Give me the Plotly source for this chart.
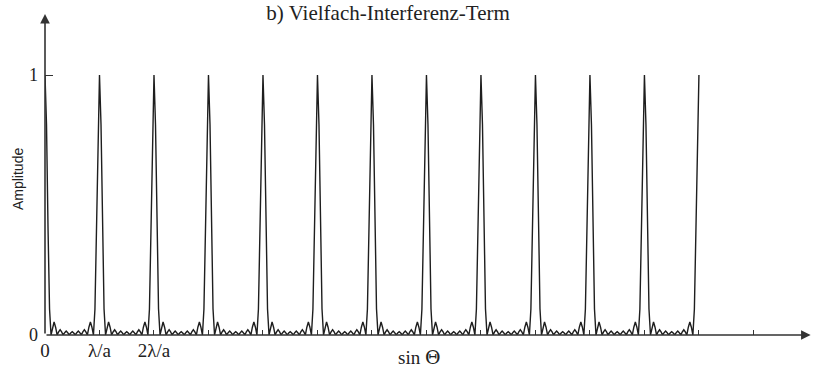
import plotly.graph_objects as go

# ---- data ----
orders = list(range(13))                 # main maxima at 0 .. 12 (units of lambda/a)
peak_height = [1.0] * 13
n_slits = 9                              # 7 secondary maxima between main peaks
flank_offsets = [0.0, 0.25, 0.5, 0.75, 1.0]   # in units of 1/(N) of a period
flank_values = [1.0, 0.81, 0.41, 0.10, 0.0]   # relative to peak height
lobe_values = [0.05, 0.02, 0.015, 0.013, 0.015, 0.02, 0.05]
axis_ticks = list(range(14))
x_ticktext = ["0", "λ/a", "2λ/a"]
x_max = 14.13
y_max = 1.258

# ---- build the curve from the values above ----
def one_period(o, h):
    xs, ys = [], []
    step = 1.0 / n_slits
    for d, v in zip(flank_offsets, flank_values):
        xs.append(o + d * step); ys.append(h * v)
    for k, a in enumerate(lobe_values, start=1):
        z0 = o + k * step
        xs += [z0 + 0.25 * step, z0 + 0.5 * step, z0 + 0.75 * step, z0 + step]
        ys += [0.6 * a, a, 0.6 * a, 0.0]
    for d, v in zip(reversed(flank_offsets[:-1]), reversed(flank_values[:-1])):
        xs.append(o + 1 - d * step); ys.append(h * v)
    return xs, ys

X, Y = [], []
for o, h in zip(orders[:-1], peak_height[:-1]):
    xs, ys = one_period(o, h)
    if X:
        xs, ys = xs[1:], ys[1:]
    X += xs; Y += ys

fig = go.Figure()
fig.add_trace(go.Scatter(x=X, y=Y, mode="lines",
                         line=dict(color="#1e1e1e", width=1.4),
                         hoverinfo="skip", showlegend=False, cliponaxis=False))

serif = "Liberation Serif, Times New Roman, serif"

fig.update_layout(
    width=817, height=371,
    margin=dict(l=45, r=2, t=8, b=36),
    paper_bgcolor="white", plot_bgcolor="white",
    title=dict(text="b) Vielfach-Interferenz-Term", x=0.475, xanchor="center",
               y=0.966, yanchor="middle", font=dict(family=serif, size=21, color="#222")),
    xaxis=dict(range=[0, x_max], showgrid=False, zeroline=False, showline=False,
               automargin=False,
               tickmode="array", tickvals=axis_ticks,
               ticktext=x_ticktext + [""] * (len(axis_ticks) - len(x_ticktext)),
               ticks="inside", ticklen=5, tickwidth=1.2, tickcolor="#333",
               ticklabelstandoff=2,
               tickfont=dict(family=serif, size=19, color="#222")),
    yaxis=dict(range=[0, y_max], showgrid=False, zeroline=False, showline=False,
               automargin=False,
               tickmode="array", tickvals=[0, 1], ticktext=["0", "1"],
               ticks="inside", ticklen=8, tickwidth=1.2, tickcolor="#333",
               ticklabelstandoff=6,
               tickfont=dict(family=serif, size=18, color="#222")),
)

# axes with arrows
fig.add_annotation(x=14.05, y=0, ax=0, ay=0, xref="x", yref="y", axref="x", ayref="y",
                   showarrow=True, arrowhead=2, arrowsize=1.2, arrowwidth=1.6,
                   arrowcolor="#333", text="")
fig.add_annotation(x=0, y=1.235, ax=0, ay=0, xref="x", yref="y", axref="x", ayref="y",
                   showarrow=True, arrowhead=2, arrowsize=1.2, arrowwidth=1.6,
                   arrowcolor="#333", text="")

fig.add_annotation(x=6.88, y=0, xref="x", yref="y", yshift=-22, showarrow=False,
                   text="sin <span style='font-family:DejaVu Serif'>Θ</span>",
                   font=dict(family=serif, size=19, color="#222"))
fig.add_annotation(x=0, y=0.6, xref="paper", yref="y", xanchor="center", yanchor="middle",
                   xshift=-27, showarrow=False, textangle=-90,
                   text="Amplitude",
                   font=dict(family="Liberation Sans Narrow, Arial Narrow, sans-serif",
                             size=14, color="#222"))

fig.write_html("out.html", post_script="document.body.style.margin='0';",
               config={"displayModeBar": False})
